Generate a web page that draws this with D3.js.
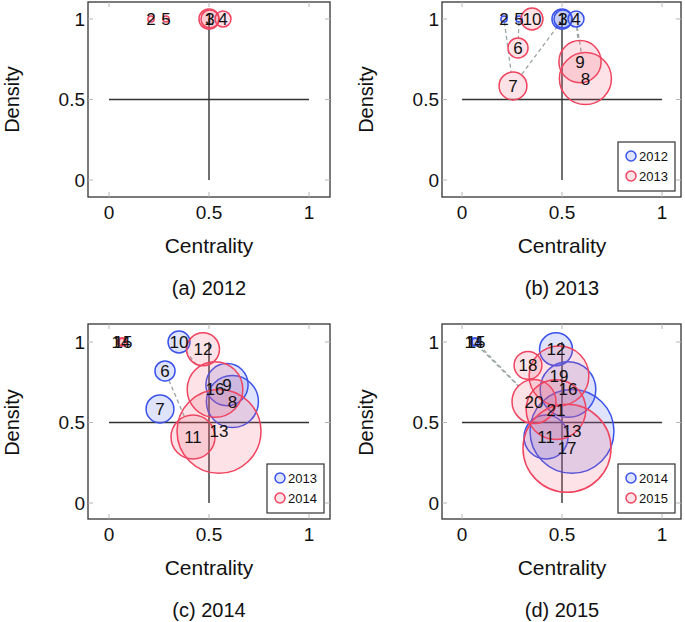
<!DOCTYPE html>
<html><head><meta charset="utf-8">
<script src="https://cdn.jsdelivr.net/npm/d3@7"></script>
<style>body{margin:0;background:#fff}</style>
</head><body>
<svg id="chart" width="685" height="622"></svg>
<script>
// ---------- data ----------
const years = ["2012", "2013", "2014", "2015"];
const captions = ["(a) 2012", "(b) 2013", "(c) 2014", "(d) 2015"];
const tickValues = [0, 0.5, 1];
const tickLabels = ["0", "0.5", "1"];

// topics of each year: label, centrality, density, size (relative bubble area)
const ids2012 = ["1", "2", "3", "4", "5"];
const centrality2012 = [0.50, 0.21, 0.505, 0.57, 0.285];
const density2012 = [1.0, 1.0, 1.0, 1.0, 1.0];
const size2012 = [5.2, 0.5, 4.2, 3.3, 0.5];

const ids2013 = ["6", "7", "8", "9", "10"];
const centrality2013 = [0.28, 0.255, 0.617, 0.59, 0.35];
const density2013 = [0.82, 0.584, 0.63, 0.735, 1.0];
const size2013 = [5.2, 10, 35, 23, 6.2];

const ids2014 = ["11", "12", "13", "14", "15", "16"];
const centrality2014 = [0.42, 0.47, 0.55, 0.06, 0.07, 0.53];
const density2014 = [0.41, 0.955, 0.445, 1.0, 1.0, 0.705];
const size2014 = [25, 14, 91, 0.8, 0.8, 40];

const ids2015 = ["17", "18", "19", "20", "21"];
const centrality2015 = [0.525, 0.33, 0.485, 0.36, 0.47];
const density2015 = [0.34, 0.855, 0.79, 0.63, 0.58];
const size2015 = [100, 10, 46, 25, 46];

// evolution links (previous-year topic -> current-year topic)
const links2013 = [["2", "7"], ["5", "6"], ["3", "7"], ["4", "9"], ["4", "8"]];
const links2014 = [["10", "16"], ["6", "11"]];
const links2015 = [["14", "20"], ["15", "20"]];

// ---------- build ----------
function topics(ids, cx, dy, sz) {
  return ids.map((id, i) => ({id, c: cx[i], d: dy[i], s: sz[i]}));
}
const yearTopics = [
  topics(ids2012, centrality2012, density2012, size2012),
  topics(ids2013, centrality2013, density2013, size2013),
  topics(ids2014, centrality2014, density2014, size2014),
  topics(ids2015, centrality2015, density2015, size2015)
];
const yearLinks = [[], links2013, links2014, links2015];

const svg = d3.select("#chart");
const FONT = "'Liberation Sans', Arial, Helvetica, sans-serif";
const BLUE = "#3a52ec", BLUE_FILL = "rgba(80,100,235,0.18)";
const RED = "#f0435f", RED_FILL = "rgba(245,90,110,0.17)";
const rScale = d3.scaleSqrt().domain([0, 100]).range([0, 44]);

const colLayout = [
  {xZero: 109, left: 88, right: 330},
  {xZero: 462, left: 442, right: 681}
];
const rowLayout = [
  {yZero: 180, yOne: 19, top: 2, bottom: 197},
  {yZero: 503, yOne: 342, top: 324, bottom: 519}
];

years.forEach((yr, p) => {
  const col = colLayout[p % 2], row = rowLayout[Math.floor(p / 2)];
  const x = d3.scaleLinear().domain([0, 1]).range([col.xZero, col.xZero + 200]);
  const y = d3.scaleLinear().domain([0, 1]).range([row.yZero, row.yOne]);
  const g = svg.append("g");

  // frame
  g.append("rect").attr("x", col.left).attr("y", row.top)
    .attr("width", col.right - col.left).attr("height", row.bottom - row.top)
    .attr("fill", "none").attr("stroke", "#333").attr("stroke-width", 1.3);

  // inner tick marks on all sides
  const tk = 5;
  tickValues.forEach(v => {
    g.append("line").attr("x1", x(v)).attr("x2", x(v)).attr("y1", row.bottom).attr("y2", row.bottom - tk)
      .attr("stroke", "#b5b5b5").attr("stroke-width", 1);
    g.append("line").attr("x1", x(v)).attr("x2", x(v)).attr("y1", row.top).attr("y2", row.top + tk)
      .attr("stroke", "#b5b5b5").attr("stroke-width", 1);
    g.append("line").attr("y1", y(v)).attr("y2", y(v)).attr("x1", col.left).attr("x2", col.left + tk)
      .attr("stroke", "#b5b5b5").attr("stroke-width", 1);
    g.append("line").attr("y1", y(v)).attr("y2", y(v)).attr("x1", col.right).attr("x2", col.right - tk)
      .attr("stroke", "#b5b5b5").attr("stroke-width", 1);
  });

  // tick labels
  tickValues.forEach((v, i) => {
    g.append("text").attr("x", x(v)).attr("y", row.bottom + 22)
      .attr("text-anchor", "middle").attr("font-family", FONT).attr("font-size", 19)
      .attr("fill", "#111").text(tickLabels[i]);
    g.append("text").attr("x", col.left - 3).attr("y", y(v)).attr("dy", "0.35em")
      .attr("text-anchor", "end").attr("font-family", FONT).attr("font-size", 19)
      .attr("fill", "#111").text(tickLabels[i]);
  });

  // axis titles and caption
  g.append("text").attr("x", (x(0) + x(1)) / 2).attr("y", row.bottom + 56)
    .attr("text-anchor", "middle").attr("font-family", FONT).attr("font-size", 21)
    .attr("fill", "#111").text("Centrality");
  g.append("text").attr("transform", `translate(${col.left - 69},${y(0.5)}) rotate(-90)`)
    .attr("text-anchor", "middle").attr("font-family", FONT).attr("font-size", 20)
    .attr("fill", "#111").text("Density");
  g.append("text").attr("x", (x(0) + x(1)) / 2).attr("y", row.bottom + 98)
    .attr("text-anchor", "middle").attr("font-family", FONT).attr("font-size", 20)
    .attr("fill", "#111").text(captions[p]);

  // quadrant cross
  g.append("line").attr("x1", x(0)).attr("x2", x(1)).attr("y1", y(0.5)).attr("y2", y(0.5))
    .attr("stroke", "#333").attr("stroke-width", 1.4);
  g.append("line").attr("x1", x(0.5)).attr("x2", x(0.5)).attr("y1", y(0)).attr("y2", y(1))
    .attr("stroke", "#333").attr("stroke-width", 1.4);

  const prev = p > 0 ? yearTopics[p - 1] : [];
  const cur = yearTopics[p];
  const find = (arr, id) => arr.find(t => t.id === id);

  // dashed links edge to edge
  yearLinks[p].forEach(([a, b]) => {
    const s = find(prev, a), t = find(cur, b);
    if (!s || !t) return;
    const x1 = x(s.c), y1 = y(s.d), x2 = x(t.c), y2 = y(t.d);
    const L = Math.hypot(x2 - x1, y2 - y1) || 1;
    const ux = (x2 - x1) / L, uy = (y2 - y1) / L;
    const r1 = rScale(s.s), r2 = rScale(t.s);
    g.append("line")
      .attr("x1", x1 + ux * r1).attr("y1", y1 + uy * r1)
      .attr("x2", x2 - ux * r2).attr("y2", y2 - uy * r2)
      .attr("stroke", "#9aa3a3").attr("stroke-width", 1.3).attr("stroke-dasharray", "4,3");
  });

  const drawBubbles = (arr, stroke, fill) => {
    g.append("g").selectAll("circle").data(arr).join("circle")
      .attr("cx", d => x(d.c)).attr("cy", d => y(d.d)).attr("r", d => rScale(d.s))
      .attr("fill", fill).attr("stroke", stroke).attr("stroke-width", 1.5);
  };
  drawBubbles(prev, BLUE, BLUE_FILL);
  drawBubbles(cur, RED, RED_FILL);

  const drawLabels = arr => {
    g.append("g").selectAll("text").data(arr).join("text")
      .attr("x", d => x(d.c)).attr("y", d => y(d.d)).attr("dy", "0.35em")
      .attr("text-anchor", "middle").attr("font-family", FONT).attr("font-size", 17)
      .attr("fill", "#111").text(d => d.id);
  };
  drawLabels(prev);
  drawLabels(cur);

  // legend
  if (p > 0) {
    const lx = col.right - 63, ly = row.bottom - 55;
    g.append("rect").attr("x", lx).attr("y", ly).attr("width", 57).attr("height", 49)
      .attr("fill", "#fff").attr("stroke", "#333").attr("stroke-width", 1.2);
    [[years[p - 1], BLUE, BLUE_FILL], [years[p], RED, RED_FILL]].forEach(([lab, st, fi], i) => {
      g.append("circle").attr("cx", lx + 13).attr("cy", ly + 14 + i * 20).attr("r", 5)
        .attr("fill", fi).attr("stroke", st).attr("stroke-width", 1.5);
      g.append("text").attr("x", lx + 21).attr("y", ly + 14 + i * 20).attr("dy", "0.35em")
        .attr("font-family", FONT).attr("font-size", 13).attr("fill", "#111").text(lab);
    });
  }
});
</script>
</body></html>
